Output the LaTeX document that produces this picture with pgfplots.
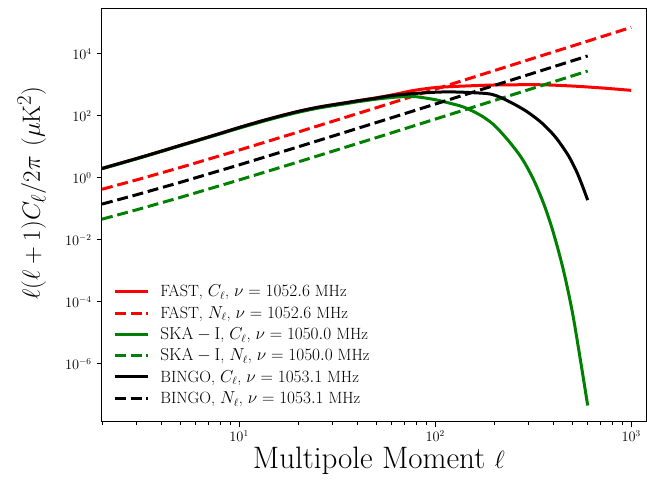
\documentclass[border=0pt]{standalone}
\usepackage{pgfplots}
\pgfplotsset{compat=1.18}
\usetikzlibrary{calc}
\definecolor{mplgreen}{rgb}{0,0.5,0}
\begin{document}
\begin{tikzpicture}
\begin{loglogaxis}[
  scale only axis, width=544pt, height=413.7pt,
  xmin=2, xmax=1190, ymin=1.35e-8, ymax=3.0e5,
  xtick={10,100,1000},
  minor xtick={2,3,4,5,6,7,8,9,20,30,40,50,60,70,80,90,200,300,400,500,600,700,800,900},
  ytick={1e-6,1e-4,1e-2,1,1e2,1e4},
  yminorticks=false,
  xtick pos=left, ytick pos=left,
  tick align=outside,
  major tick length=5.5pt, minor tick length=3pt,
  every tick/.style={black, line width=0.9pt},
  axis line style={line width=1pt},
  ticklabel style={font=\fontsize{13.5}{14}\selectfont},
  yticklabel style={xshift=-1.5pt},
  xlabel={Multipole Moment $\ell$},
  xlabel style={font=\fontsize{31}{33}\selectfont, at={(axis description cs:0.509,-0.112)}, anchor=base},
  ylabel={$\ell(\ell+1)C_\ell/2\pi\ (\mu\mathrm{K}^2)$},
  ylabel style={font=\fontsize{31}{33}\selectfont, at={(axis description cs:-0.129,0.553)}, anchor=center},
  legend cell align=left,
  legend image code/.code={\draw[#1] (0pt,0pt) -- (33pt,0pt);},
  legend style={draw=none, fill=none, at={(axis description cs:0.015,0.034)}, anchor=south west,
    font=\fontsize{16.3}{18}\selectfont, row sep=7pt,
    nodes={inner xsep=4pt, inner ysep=0.5pt},
    column sep=7pt},
]
\coordinate (bl) at (rel axis cs:0,0);
\coordinate (tr) at (rel axis cs:1,1);
% FAST C_l
\addplot[red, line width=3pt, smooth] coordinates {
(2,2.0) (3,4.17) (4,7.16) (5,11.0) (6,15.5) (8,26.9) (10,41.7) (13,67.6) (16,96.6) (20,138) (25,186) (30,226) (35,263) (40,302) (50,380)
(60,468) (70,575) (80,676) (100,813) (130,891) (190,977) (250,1000) (350,1000) (500,912) (700,794) (1000,661)};
\addlegendentry{FAST,\ $C_\ell$,\ $\nu = 1052.6$ MHz}
% FAST N_l
\addplot[red, line width=3pt, dash pattern=on 11pt off 4.8pt] coordinates {
(2,0.426) (3,0.852) (5,2.13) (10,7.81) (20,29.8) (50,181) (100,717) (200,2854) (500,17786) (600,25603) (1000,71071)};
\addlegendentry{FAST,\ $N_\ell$,\ $\nu = 1052.6$ MHz}
% SKA C_l
\addplot[mplgreen, line width=3pt, smooth] coordinates {
(2,1.95) (3,4.07) (4,7.0) (5,10.7) (6,15.1) (8,26.0) (10,39.8) (13,63.8) (16,91.2) (20,129) (25,174) (30,211) (35,245) (40,282) (50,343)
(60,389) (70,417) (80,412) (100,331) (120,250) (140,190) (170,105) (200,50) (240,14.1) (280,3.8) (320,0.79) (360,0.132) (400,0.0178)
(450,1.12e-3) (500,5.0e-5) (550,1.41e-6) (600,4.5e-8)};
\addlegendentry{$\mathrm{SKA-I}$,\ $C_\ell$,\ $\nu = 1050.0$ MHz}
% SKA N_l
\addplot[mplgreen, line width=3pt, dash pattern=on 11pt off 4.8pt] coordinates {
(2,0.0462) (3,0.0924) (5,0.231) (10,0.847) (20,3.23) (50,19.6) (100,77.8) (200,310) (500,1929) (600,2777)};
\addlegendentry{$\mathrm{SKA-I}$,\ $N_\ell$,\ $\nu = 1050.0$ MHz}
% BINGO C_l
\addplot[black, line width=3pt, smooth] coordinates {
(2,2.0) (3,4.17) (4,7.16) (5,11.0) (6,15.5) (8,26.9) (10,41.7) (13,67.6) (16,96.6) (20,138) (25,186) (30,226) (35,263) (40,302) (50,372)
(60,447) (75,513) (100,575) (120,589) (150,562) (195,490) (240,282) (293,138) (350,58.9) (400,25.1) (431,13.8) (480,5.0) (525,1.66) (560,0.617) (600,0.19)};
\addlegendentry{BINGO,\ $C_\ell$,\ $\nu = 1053.1$ MHz}
% BINGO N_l
\addplot[black, line width=3pt, dash pattern=on 11pt off 4.8pt] coordinates {
(2,0.1416) (3,0.283) (5,0.708) (10,2.60) (20,9.91) (50,60.2) (100,238) (200,949) (500,5912) (600,8510)};
\addlegendentry{BINGO,\ $N_\ell$,\ $\nu = 1053.1$ MHz}
\end{loglogaxis}
\pgfresetboundingbox
\path ($(bl)+(-102pt,-60.3pt)$) rectangle ($(tr)+(1pt,8pt)$);
\end{tikzpicture}
\end{document}
